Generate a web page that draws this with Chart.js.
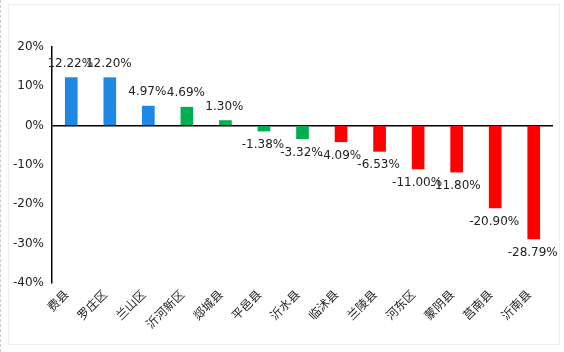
<!DOCTYPE html>
<html>
<head>
<meta charset="utf-8">
<script src="https://cdn.jsdelivr.net/npm/chart.js@4"></script>
<style>
  html, body { margin: 0; padding: 0; background: #fff; }
  #wrap { position: relative; width: 564px; height: 352px; border-left: 1px dashed #ccc; box-sizing: border-box; }
  #frame { position: absolute; left: 7px; top: 4px; width: 550px; height: 339px; border: 1px solid #eeeeee; }
  #chart { position: absolute; left: 0; top: 0; }
</style>
</head>
<body>
<div id="wrap">
  <div id="frame"></div>
  <canvas id="chart" width="564" height="352"></canvas>
</div>
<script>
const regions = ["费县", "罗庄区", "兰山区", "沂河新区", "郯城县", "平邑县", "沂水县", "临沭县", "兰陵县", "河东区", "蒙阴县", "莒南县", "沂南县"];
const changes = [12.22, 12.2, 4.97, 4.69, 1.3, -1.38, -3.32, -4.09, -6.53, -11.0, -11.8, -20.9, -28.79];
const groups = ["blue", "blue", "blue", "green", "green", "green", "green", "red", "red", "red", "red", "red", "red"];
const yTicks = [20, 10, 0, -10, -20, -30, -40];

const palette = { blue: "#1e88e5", green: "#00b050", red: "#ff0000" };

Chart.defaults.font.family = "DejaVu Sans";
Chart.defaults.font.size = 12;
Chart.defaults.color = "#333";

const valueLabels = {
  id: "valueLabels",
  afterDatasetsDraw(chart) {
    const ctx = chart.ctx;
    const meta = chart.getDatasetMeta(0);
    ctx.save();
    ctx.font = "12px DejaVu Sans";
    ctx.fillStyle = "#222";
    ctx.textAlign = "center";
    ctx.textBaseline = "middle";
    meta.data.forEach((bar, i) => {
      const v = changes[i];
      const y = v >= 0 ? bar.y - 14 : bar.y + 14;
      ctx.fillText(v.toFixed(2) + "%", bar.x - 1, y);
    });
    ctx.restore();
  },
};

new Chart(document.querySelector("#chart").getContext("2d"), {
  type: "bar",
  data: {
    labels: regions,
    datasets: [
      {
        data: changes,
        backgroundColor: groups.map((g) => palette[g]),
        barThickness: 12,
        borderWidth: 0,
      },
    ],
  },
  options: {
    responsive: false,
    animation: false,
    layout: {
      padding: { top: 47, right: 12, bottom: 0, left: 8 },
    },
    plugins: {
      legend: { display: false },
      title: { display: false },
      tooltip: { enabled: false },
    },
    scales: {
      x: {
        grid: { display: false, drawTicks: false },
        border: { display: false },
        ticks: {
          minRotation: 45,
          maxRotation: 45,
          padding: 4,
          labelOffset: -5,
          color: "#222",
          font: { family: "Noto Sans CJK SC", size: 12 },
        },
        afterFit: (s) => { s.height = 69; },
      },
      y: {
        min: -40,
        max: 20,
        afterBuildTicks: (s) => { s.ticks = yTicks.map((v) => ({ value: v })); },
        grid: {
          drawTicks: false,
          color: (c) => (c.tick && c.tick.value === 0 ? "#000" : "rgba(0,0,0,0)"),
          lineWidth: 1.5,
        },
        border: { display: true, color: "#000", width: 1.5 },
        ticks: {
          padding: 8,
          color: "#222",
          callback: (v) => v + "%",
        },
        afterFit: (s) => { s.width = 43; },
      },
    },
  },
  plugins: [valueLabels],
});
</script>
</body>
</html>
